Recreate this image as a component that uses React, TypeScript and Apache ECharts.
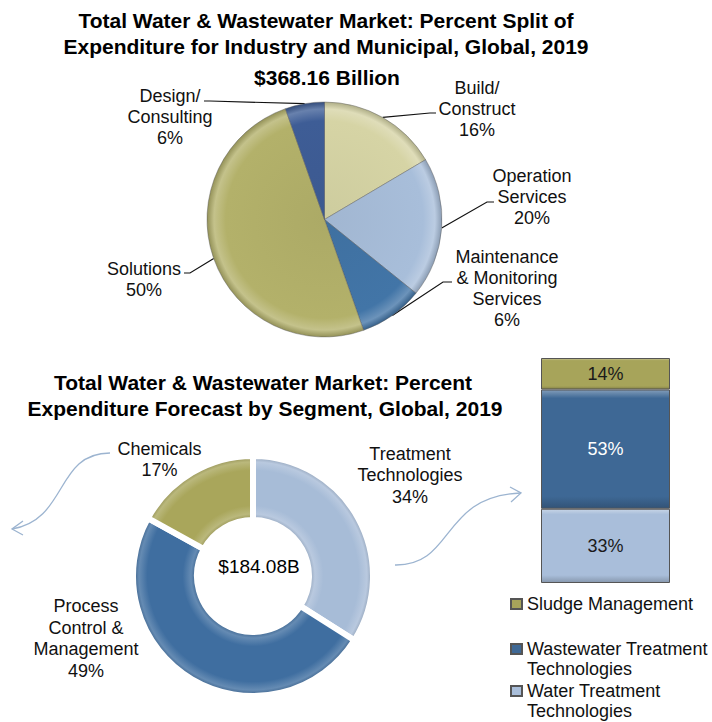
import React, { useEffect, useRef } from 'react';
import * as echarts from 'echarts';

const FONT = '"Liberation Sans", Arial, Helvetica, sans-serif';

// ---------- Data ----------
const topTitleLines = [
  'Total Water & Wastewater Market: Percent Split of',
  'Expenditure for Industry and Municipal, Global, 2019',
];
const marketTotal = '$368.16 Billion';
const splitNames = [
  'Build/\nConstruct',
  'Operation\nServices',
  'Maintenance\n& Monitoring\nServices',
  'Solutions',
  'Design/\nConsulting',
];
// slice sizes as drawn in the picture
const splitShares = [16.5, 19.3, 8.8, 50, 5.4];
// percentages as printed on the labels
const splitLabels = ['16%', '20%', '6%', '50%', '6%'];

const bottomTitleLines = [
  'Total Water & Wastewater Market: Percent',
  'Expenditure Forecast by Segment, Global, 2019',
];
const segmentTotal = '$184.08B';
const segmentNames = ['Treatment\nTechnologies', 'Process\nControl &\nManagement', 'Chemicals'];
const segmentValues = [34, 49, 17];

const treatmentCategories = ['Treatment Technologies'];
const treatmentNames = ['Water Treatment Technologies', 'Wastewater Treatment Technologies', 'Sludge Management'];
const treatmentValues = [33, 53, 14];
const legendOrder = ['Sludge Management', 'Wastewater Treatment Technologies', 'Water Treatment Technologies'];

// ---------- Styling / layout ----------
const splitColors = ['#D6D4A5', '#A8BEDA', '#4275A7', '#B3B16A', '#3E5D96'];
const segmentColors = ['#A7BCD7', '#3F6EA0', '#A9A65B'];
const treatmentColors = ['#A9BEDA', '#3E6895', '#A7A45A'];
const treatmentLabelColors = ['#1a1a1a', '#ffffff', '#1a1a1a'];

const PIE1 = { cx: 324.5, cy: 219.5, r: 117.5 };
const PIE2 = { cx: 253, cy: 576, r0: 56, r: 120 };
const splitLabelPos = [[477, 109], [532, 197], [507, 288], [144, 279], [170, 117]];
const splitLeaderEnd = [
  [[430, 113], [436, 113]],
  [[487, 202], [494, 202]],
  [[443, 282], [452, 282]],
  [[190, 273], [184, 273]],
  [[210, 101], [204, 101]],
];
const segmentLabelPos = [[410, 475], [86, 638.5], [159.5, 459.5]];
const legendIconY = [604, 649, 691];
const LEGEND_LH = 20;

function mix(hex: string, target: string, t: number) {
  const p = (h: string) => [1, 3, 5].map((i) => parseInt(h.slice(i, i + 2), 16));
  const a = p(hex);
  const b = p(target);
  const c = a.map((v, i) => Math.round(v + (b[i] - v) * t));
  return '#' + c.map((v) => v.toString(16).padStart(2, '0')).join('');
}

function pieBevel(c: string, cx: number, cy: number, r: number) {
  return {
    type: 'radial', x: cx, y: cy, r, global: true,
    colorStops: [
      { offset: 0, color: mix(c, '#000000', 0.04) },
      { offset: 0.84, color: c },
      { offset: 0.94, color: mix(c, '#ffffff', 0.22) },
      { offset: 1, color: mix(c, '#000000', 0.18) },
    ],
  };
}

function donutBevel(c: string, cx: number, cy: number, r0: number, r: number) {
  const f = r0 / r;
  return {
    type: 'radial', x: cx, y: cy, r, global: true,
    colorStops: [
      { offset: 0, color: c },
      { offset: f, color: mix(c, '#000000', 0.15) },
      { offset: f + 0.05, color: mix(c, '#ffffff', 0.2) },
      { offset: f + 0.12, color: c },
      { offset: 0.88, color: c },
      { offset: 0.95, color: mix(c, '#ffffff', 0.2) },
      { offset: 1, color: mix(c, '#000000', 0.18) },
    ],
  };
}

function barBevel(c: string) {
  return {
    type: 'linear', x: 0, y: 0, x2: 0, y2: 1,
    colorStops: [
      { offset: 0, color: mix(c, '#ffffff', 0.35) },
      { offset: 0.07, color: c },
      { offset: 0.9, color: c },
      { offset: 1, color: mix(c, '#000000', 0.2) },
    ],
  };
}

function edgePoint(shares: number[], i: number, cx: number, cy: number, r: number) {
  const total = shares.reduce((s, v) => s + v, 0);
  const before = shares.slice(0, i).reduce((s, v) => s + v, 0);
  const th = ((before + shares[i] / 2) / total) * Math.PI * 2;
  return [cx + r * Math.sin(th), cy - r * Math.cos(th)];
}

export default function App() {
  const ref = useRef<HTMLDivElement>(null);

  useEffect(() => {
    if (!ref.current) return;
    const chart = echarts.init(ref.current, undefined, { renderer: 'svg' });

    const arrowStyle = { stroke: '#9CB4D0', lineWidth: 1.3, fill: 'none' };

    const legends = legendOrder.map((name, k) => {
      const twoLine = name.includes(' Technologies');
      const h = twoLine ? LEGEND_LH * 3 : LEGEND_LH;
      return {
        show: true,
        orient: 'vertical',
        left: 510,
        top: legendIconY[k] - h / 2,
        padding: 0,
        itemWidth: 11,
        itemHeight: 10,
        itemGap: 0,
        icon: 'rect',
        data: [name],
        selectedMode: false,
        formatter: (n: string) => (n.includes(' Technologies') ? '\n' + n.replace(' Technologies', '\nTechnologies') : n),
        textStyle: { fontFamily: FONT, fontSize: 18, color: '#111', lineHeight: LEGEND_LH },
      };
    });

    const titleFont = `bold 21px ${FONT}`;
    const option: any = {
      animation: false,
      textStyle: { fontFamily: FONT },
      legend: legends,
      grid: { left: 541, top: 358, width: 129, height: 225, containLabel: false },
      xAxis: { type: 'category', data: treatmentCategories, show: false },
      yAxis: { type: 'value', min: 0, max: 100, show: false },
      graphic: [
        {
          type: 'text', x: 326, y: 20.5,
          style: { text: topTitleLines[0], font: titleFont, fill: '#000', align: 'center', verticalAlign: 'middle' },
        },
        {
          type: 'text', x: 326, y: 46,
          style: { text: topTitleLines[1], font: titleFont, fill: '#000', align: 'center', verticalAlign: 'middle' },
        },
        {
          type: 'text', x: 327, y: 77.5,
          style: { text: marketTotal, font: titleFont, fill: '#000', align: 'center', verticalAlign: 'middle' },
        },
        {
          type: 'text', x: 263, y: 382,
          style: { text: bottomTitleLines[0], font: titleFont, fill: '#000', align: 'center', verticalAlign: 'middle' },
        },
        {
          type: 'text', x: 265, y: 408,
          style: { text: bottomTitleLines[1], font: titleFont, fill: '#000', align: 'center', verticalAlign: 'middle' },
        },
        {
          type: 'text', x: 259, y: 566,
          style: { text: segmentTotal, font: `19px ${FONT}`, fill: '#000', align: 'center', verticalAlign: 'middle' },
        },
        {
          type: 'bezierCurve',
          shape: { x1: 110, y1: 453, cpx1: 55, cpy1: 453, cpx2: 68, cpy2: 520, x2: 12, y2: 529 },
          style: arrowStyle,
        },
        { type: 'polyline', shape: { points: [[23, 521], [12, 529], [23, 535]] }, style: arrowStyle },
        {
          type: 'bezierCurve',
          shape: { x1: 395, y1: 565, cpx1: 455, cpy1: 566, cpx2: 440, cpy2: 496, x2: 521, y2: 493 },
          style: arrowStyle,
        },
        { type: 'polyline', shape: { points: [[510, 487], [521, 493], [511, 502]] }, style: arrowStyle },
      ],
      series: [
        {
          type: 'pie',
          name: 'Split',
          center: [PIE1.cx, PIE1.cy],
          radius: [0, PIE1.r],
          startAngle: 90,
          clockwise: true,
          avoidLabelOverlap: false,
          legendHoverLink: false,
          data: splitNames.map((n, i) => ({
            name: n,
            value: splitShares[i],
            itemStyle: { color: pieBevel(splitColors[i], PIE1.cx, PIE1.cy, PIE1.r) },
          })),
          itemStyle: { borderColor: 'rgba(90,90,90,0.55)', borderWidth: 0.8 },
          label: {
            show: true,
            position: 'outside',
            fontFamily: FONT,
            fontSize: 18,
            lineHeight: 21,
            color: '#111',
            formatter: (p: any) => `${p.name}\n${splitLabels[p.dataIndex]}`,
          },
          labelLine: { show: true, lineStyle: { color: '#111', width: 1.2 } },
          labelLayout: (p: any) => {
            const i = p.dataIndex;
            const start = edgePoint(splitShares, i, PIE1.cx, PIE1.cy, PIE1.r);
            return {
              x: splitLabelPos[i][0],
              y: splitLabelPos[i][1],
              align: 'center',
              verticalAlign: 'middle',
              labelLinePoints: [start, splitLeaderEnd[i][0], splitLeaderEnd[i][1]],
            };
          },
        },
        {
          type: 'pie',
          name: 'Segment',
          center: [PIE2.cx, PIE2.cy],
          radius: [PIE2.r0, PIE2.r],
          startAngle: 90,
          clockwise: true,
          avoidLabelOverlap: false,
          legendHoverLink: false,
          data: segmentNames.map((n, i) => ({
            name: n,
            value: segmentValues[i],
            itemStyle: { color: donutBevel(segmentColors[i], PIE2.cx, PIE2.cy, PIE2.r0, PIE2.r) },
          })),
          itemStyle: { borderColor: '#ffffff', borderWidth: 6 },
          label: {
            show: true,
            position: 'outside',
            fontFamily: FONT,
            fontSize: 18,
            lineHeight: 21.5,
            color: '#111',
            formatter: (p: any) => `${p.name}\n${p.value}%`,
          },
          labelLine: { show: false },
          labelLayout: (p: any) => ({
            x: segmentLabelPos[p.dataIndex][0],
            y: segmentLabelPos[p.dataIndex][1],
            align: 'center',
            verticalAlign: 'middle',
          }),
        },
        ...treatmentNames.map((n, i) => ({
          type: 'bar',
          name: n,
          stack: 'total',
          barWidth: '100%',
          data: [treatmentValues[i]],
          itemStyle: { color: barBevel(treatmentColors[i]), borderColor: '#555555', borderWidth: 1 },
          label: {
            show: true,
            position: 'inside',
            formatter: '{c}%',
            fontFamily: FONT,
            fontSize: 18,
            color: treatmentLabelColors[i],
          },
        })),
      ],
    };

    chart.setOption(option);
    return () => chart.dispose();
  }, []);

  return (
    <div
      ref={ref}
      style={{ position: 'fixed', left: 0, top: 0, width: 712, height: 722, background: '#ffffff' }}
    />
  );
}
